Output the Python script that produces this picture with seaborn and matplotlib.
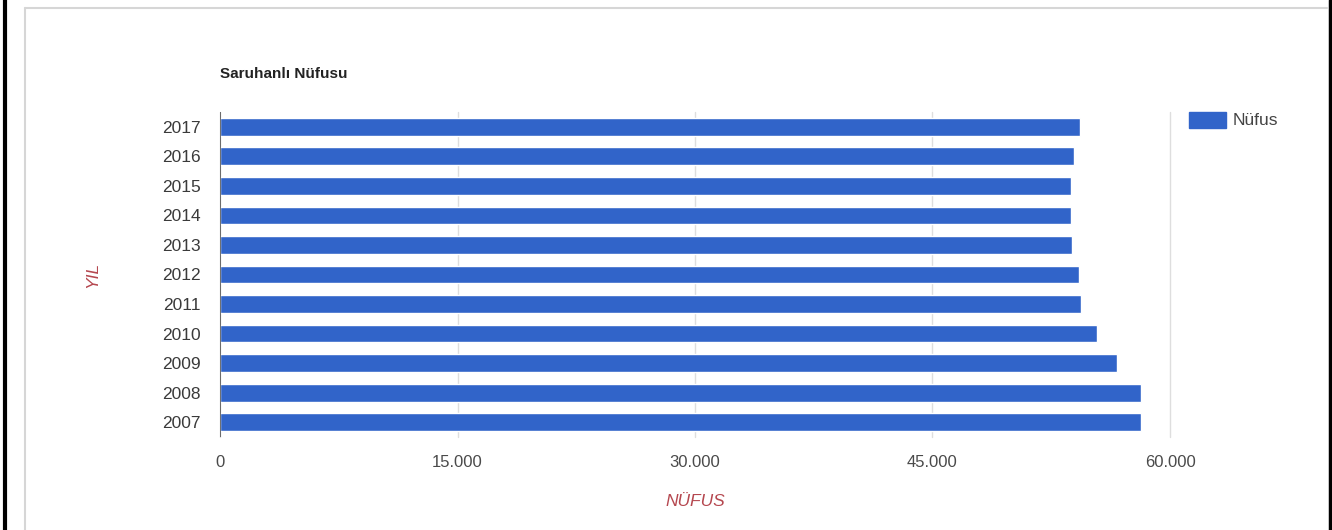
import matplotlib
matplotlib.use("Agg")
import matplotlib.pyplot as plt
import seaborn as sns
import pandas as pd
from matplotlib.ticker import FuncFormatter, FixedLocator
from matplotlib.lines import Line2D
from matplotlib.patches import Patch

# ---- data ----
years = ["2017", "2016", "2015", "2014", "2013", "2012", "2011", "2010", "2009", "2008", "2007"]
population = [54310, 53950, 53740, 53740, 53800, 54230, 54390, 55390, 56630, 58190, 58190]
series_name = "Nüfus"
x_ticks = [0, 15000, 30000, 45000, 60000]
chart_title = "Saruhanlı Nüfusu"
x_label = "NÜFUS"
y_label = "YIL"

sns.set_theme(style="white")
plt.rcParams['font.family'] = ['Liberation Sans', 'DejaVu Sans']

df = pd.DataFrame({"Yıl": years, "Nüfus": population})

W, H = 1332, 530
fig = plt.figure(figsize=(W / 100, H / 100), dpi=100)
fig.patch.set_facecolor("white")

ax = fig.add_axes([220 / W, (H - 437) / H, 950 / W, 325 / H])
bar_color = "#3164c9"
sns.barplot(data=df, x="Nüfus", y="Yıl", order=years, orient="h",
            color=bar_color, saturation=1, width=0.6, ax=ax, legend=False)

ax.set_xlim(0, 60000)
ax.set_ylim(10.5, -0.5)

for s in ax.spines.values():
    s.set_visible(False)

ax.xaxis.set_major_locator(FixedLocator(x_ticks))
ax.xaxis.set_major_formatter(FuncFormatter(lambda v, p: f"{int(v):,}".replace(",", ".")))
ax.set_axisbelow(True)
ax.xaxis.grid(True, color="#dedede", linewidth=1)
ax.yaxis.grid(False)
for gl in ax.get_xgridlines():
    gl.set_clip_on(False)
ax.axvline(0, color="#555555", linewidth=1.2, zorder=3)

ax.tick_params(axis="x", length=0, labelsize=12, labelcolor="#4a4a4a", pad=13)
ax.tick_params(axis="y", length=0, labelsize=12.5, labelcolor="#3a3a3a", pad=14)

ax.set_xlabel(x_label, fontstyle="italic", color="#b5474f", fontsize=12.5)
ax.xaxis.set_label_coords(0.5, -(502 - 437) / 325)
ax.xaxis.label.set_va("center")
ax.set_ylabel(y_label, fontstyle="italic", color="#b5474f", fontsize=12.5)
ax.yaxis.set_label_coords((93 - 220) / 950, 0.5)
ax.yaxis.label.set_va("center")

fig.text(220 / W, 1 - 74 / H, chart_title, fontweight="bold", fontsize=11,
         color="#222222", ha="left", va="center")

ax.legend(handles=[Patch(color=bar_color, label=series_name)],
          loc="center left", bbox_to_anchor=(1189 / W, 1 - 120 / H),
          bbox_transform=fig.transFigure, frameon=False,
          handlelength=2.13, handleheight=1.04, fontsize=12.5,
          borderaxespad=0, borderpad=0, handletextpad=0.4, labelcolor="#444444")

# ---- outer frame ----
fig.add_artist(Line2D([5 / W, 5 / W], [0, 1], color="black", lw=3, transform=fig.transFigure))
fig.add_artist(Line2D([1329.5 / W, 1329.5 / W], [0, 1], color="black", lw=2.5, transform=fig.transFigure))
fig.add_artist(Line2D([25 / W, 25 / W], [0, 1 - 8 / H], color="#d6d6d6", lw=1.5, transform=fig.transFigure))
fig.add_artist(Line2D([25 / W, 1327 / W], [1 - 8 / H, 1 - 8 / H], color="#d6d6d6", lw=1.5, transform=fig.transFigure))

fig.savefig("out.png", dpi=100)
